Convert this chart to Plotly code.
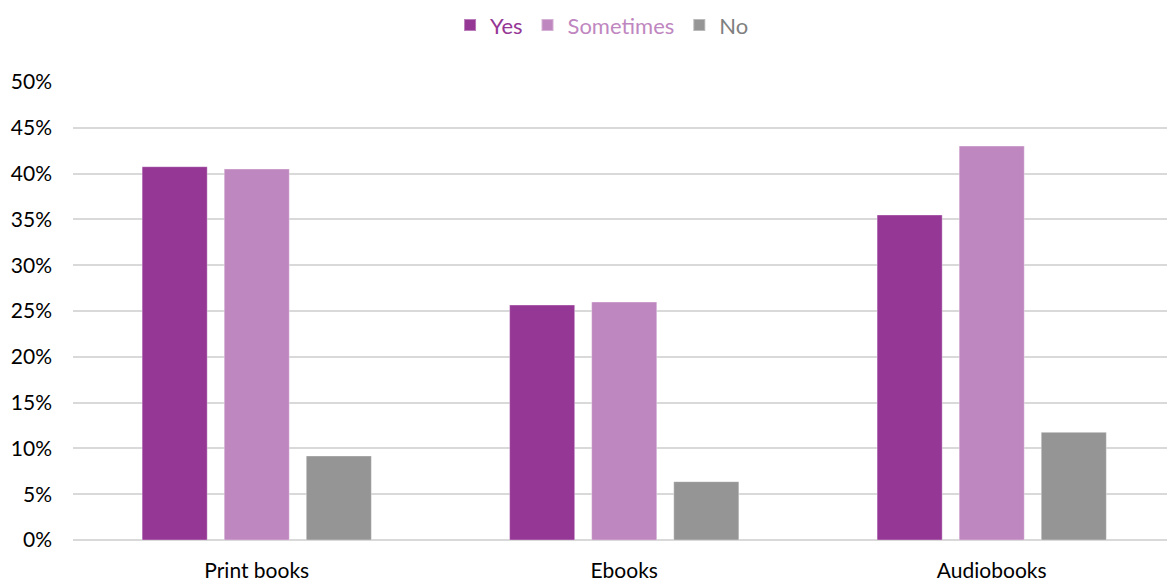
import plotly.graph_objects as go

# Survey shares by format
categories = ["Print books", "Ebooks", "Audiobooks"]
yes_vals = [0.4075, 0.2565, 0.3548]
sometimes_vals = [0.4050, 0.2598, 0.4300]
no_vals = [0.0917, 0.0637, 0.1175]

series = [
    ("Yes", yes_vals, "#953795"),
    ("Sometimes", sometimes_vals, "#BF87BF"),
    ("No", no_vals, "#959595"),
]
legend_text_colors = {"Yes": "#953795", "Sometimes": "#BF87BF", "No": "#7F7F7F"}

FONT = "Lato, 'Open Sans', sans-serif"

fig = go.Figure()
for name, vals, color in series:
    fig.add_trace(go.Bar(
        x=categories,
        y=vals,
        name=f"<span style='color:{legend_text_colors[name]}'>{name}</span>",
        marker=dict(color=color, line=dict(color="rgba(255,255,255,0.35)", width=1)),
        hovertemplate="%{x}: %{y:.1%}<extra>" + name + "</extra>",
    ))

fig.update_layout(
    width=1167,
    height=581,
    margin=dict(l=73, r=0, t=82, b=41),
    paper_bgcolor="white",
    plot_bgcolor="white",
    barmode="group",
    bargap=0.33,
    bargroupgap=0.207,
    font=dict(family=FONT, size=21, color="#262626"),
    legend=dict(
        orientation="h",
        x=0.4836,
        xanchor="center",
        y=1.124,
        yanchor="middle",
        font=dict(family=FONT, size=22),
        itemsizing="constant",
        itemwidth=30,
        traceorder="normal",
    ),
    xaxis=dict(
        range=[-0.5, 2.477],
        showgrid=False,
        showline=False,
        ticks="",
        ticklabelstandoff=16,
        tickfont=dict(family=FONT, size=21, color="#000000"),
    ),
    yaxis=dict(
        range=[0, 0.5],
        dtick=0.05,
        tickformat=".0%",
        showgrid=True,
        gridcolor="#D9D9D9",
        gridwidth=1.5,
        zeroline=True,
        zerolinecolor="#D9D9D9",
        zerolinewidth=1.5,
        showline=False,
        ticks="",
        ticklabelstandoff=20,
        tickfont=dict(family=FONT, size=21, color="#000000"),
    ),
)

fig.write_html("out.html")
